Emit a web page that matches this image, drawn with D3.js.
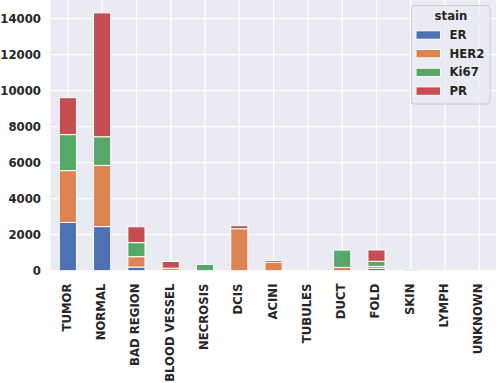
<!DOCTYPE html>
<html>
<head>
<meta charset="utf-8">
<script src="https://cdn.jsdelivr.net/npm/d3@7"></script>
<style>
  body { margin: 0; background: #fff; }
  text { font-family: "DejaVu Sans", sans-serif; font-weight: bold; fill: #262626; }
</style>
</head>
<body>
<div id="chart"></div>
<script>
// tissue regions on the x axis
const regions = ["TUMOR", "NORMAL", "BAD REGION", "BLOOD VESSEL", "NECROSIS", "DCIS", "ACINI",
                 "TUBULES", "DUCT", "FOLD", "SKIN", "LYMPH", "UNKNOWN"];
const stains = ["ER", "HER2", "Ki67", "PR"];

// counts per stain
const erCounts   = [2680, 2450, 200,  20,   0,    0,    0, 0,   0, 130,  0, 0, 0];
const her2Counts = [2880, 3400, 580, 120,   0, 2330,  460, 0, 185, 110,  0, 0, 0];
const ki67Counts = [2000, 1590, 780,   0, 350,    0,    0, 0, 960, 280, 80, 0, 0];
const prCounts   = [2050, 6880, 880, 370,   0,  170,  100, 0,   0, 630,  0, 0, 0];

const yTicks = [0, 2000, 4000, 6000, 8000, 10000, 12000, 14000];
const colors = ["#4c72b0", "#dd8452", "#55a868", "#c44e52"];

const width = 496, height = 383;
const margin = { left: 50.7, right: -0.5, top: 0, bottom: 112.3 };
const fontSize = "11.7px";

// build rows for the stack layout
const rows = regions.map((r, i) => ({
  region: r, ER: erCounts[i], HER2: her2Counts[i], Ki67: ki67Counts[i], PR: prCounts[i]
}));
const series = d3.stack().keys(stains)(rows);
const maxTotal = d3.max(rows, d => d.ER + d.HER2 + d.Ki67 + d.PR);

const svg = d3.select("#chart").append("svg")
  .attr("width", width)
  .attr("height", height);

const x = d3.scaleBand()
  .domain(regions)
  .range([margin.left, width - margin.right])
  .paddingInner(0.5)
  .paddingOuter(0.25);

const y = d3.scaleLinear()
  .domain([0, maxTotal * 1.05])
  .range([height - margin.bottom, margin.top]);

// plot background
svg.append("rect")
  .attr("x", margin.left)
  .attr("y", margin.top)
  .attr("width", width - margin.right - margin.left)
  .attr("height", height - margin.bottom - margin.top)
  .attr("fill", "#eaeaf2");

// grid lines
svg.append("g")
  .selectAll("line")
  .data(yTicks)
  .enter().append("line")
  .attr("x1", margin.left)
  .attr("x2", width)
  .attr("y1", d => y(d))
  .attr("y2", d => y(d))
  .attr("stroke", "#fff")
  .attr("stroke-width", 1.3);

svg.append("g")
  .selectAll("line")
  .data(regions)
  .enter().append("line")
  .attr("x1", d => x(d) + x.bandwidth() / 2)
  .attr("x2", d => x(d) + x.bandwidth() / 2)
  .attr("y1", margin.top)
  .attr("y2", height - margin.bottom)
  .attr("stroke", "#fff")
  .attr("stroke-width", 1.3);

// stacked bars
svg.append("g")
  .selectAll("g")
  .data(series)
  .enter().append("g")
  .attr("fill", (d, i) => colors[i])
  .selectAll("rect")
  .data(d => d.filter(p => p[1] - p[0] > 0))
  .enter().append("rect")
  .attr("x", d => x(d.data.region))
  .attr("y", d => y(d[1]))
  .attr("width", x.bandwidth())
  .attr("height", d => y(d[0]) - y(d[1]))
  .attr("stroke", "#fff")
  .attr("stroke-width", 1);

// y axis labels
svg.append("g")
  .selectAll("text")
  .data(yTicks)
  .enter().append("text")
  .attr("x", 41)
  .attr("y", d => y(d))
  .attr("text-anchor", "end")
  .attr("dominant-baseline", "central")
  .style("font-size", fontSize)
  .text(d => d);

// x axis labels, rotated
svg.append("g")
  .selectAll("text")
  .data(regions)
  .enter().append("text")
  .attr("transform", d => `translate(${x(d) + x.bandwidth() / 2 - 1}, 283.5) rotate(-90)`)
  .attr("text-anchor", "end")
  .attr("dominant-baseline", "central")
  .style("font-size", fontSize)
  .text(d => d);

// legend
const legend = svg.append("g").attr("transform", "translate(411.5, 5.5)");
legend.append("rect")
  .attr("width", 78.5)
  .attr("height", 98.5)
  .attr("rx", 2.5)
  .attr("fill", "#eaeaf2")
  .attr("fill-opacity", 0.8)
  .attr("stroke", "#cccccc")
  .attr("stroke-width", 1);
legend.append("text")
  .attr("x", 39.5)
  .attr("y", 10.5)
  .attr("text-anchor", "middle")
  .attr("dominant-baseline", "central")
  .style("font-size", fontSize)
  .text("stain");
const items = legend.selectAll("g.item")
  .data(stains)
  .enter().append("g")
  .attr("class", "item")
  .attr("transform", (d, i) => `translate(0, ${29.5 + i * 18.7})`);
items.append("rect")
  .attr("x", 4.5)
  .attr("y", -4.2)
  .attr("width", 24.5)
  .attr("height", 8.4)
  .attr("fill", (d, i) => colors[i])
  .attr("stroke", "#fff")
  .attr("stroke-width", 1);
items.append("text")
  .attr("x", 38)
  .attr("y", 0)
  .attr("dominant-baseline", "central")
  .style("font-size", fontSize)
  .text(d => d);
</script>
</body>
</html>
